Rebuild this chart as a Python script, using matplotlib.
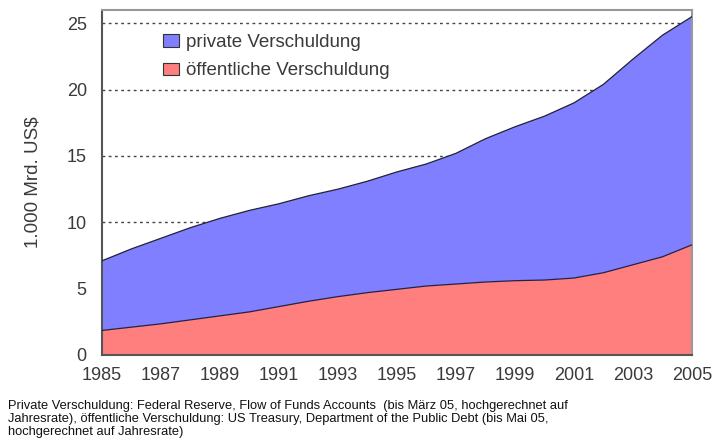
import matplotlib
matplotlib.use('Agg')
import matplotlib.pyplot as plt
import numpy as np

plt.rcParams['font.family'] = ['Liberation Sans', 'DejaVu Sans']

# --- Daten (Billionen US$) ---
years = [1985, 1986, 1987, 1988, 1989, 1990, 1991, 1992, 1993, 1994, 1995,
         1996, 1997, 1998, 1999, 2000, 2001, 2002, 2003, 2004, 2005]
oeffentlich = [1.85, 2.1, 2.35, 2.65, 2.95, 3.25, 3.65, 4.05, 4.4, 4.7, 4.95,
               5.2, 5.35, 5.5, 5.6, 5.65, 5.8, 6.2, 6.8, 7.4, 8.3]
gesamt = [7.1, 8.0, 8.8, 9.6, 10.3, 10.9, 11.4, 12.0, 12.5, 13.1, 13.8,
          14.4, 15.2, 16.3, 17.2, 18.0, 19.0, 20.4, 22.3, 24.1, 25.5]
privat = [g - o for g, o in zip(gesamt, oeffentlich)]

x_ticks = list(range(1985, 2006, 2))
y_ticks = [0, 5, 10, 15, 20, 25]

fig = plt.figure(figsize=(7.15, 4.48), dpi=100)
ax = fig.add_axes([0.1427, 0.2076, 0.825, 0.770])

ax.stackplot(years, oeffentlich, privat,
             colors=['#ff7f7f', '#7f7fff'],
             labels=['öffentliche Verschuldung', 'private Verschuldung'],
             edgecolor='none', zorder=2)
ax.plot(years, oeffentlich, color='#222244', lw=0.9, zorder=3)
ax.plot(years, gesamt, color='#222233', lw=0.9, zorder=3)

for y in y_ticks[1:]:
    ax.axhline(y, color='#444444', lw=1.0, ls=(0, (2, 2.5)), zorder=1)

ax.set_xlim(1985, 2005)
ax.set_ylim(0, 26)
ax.set_xticks(x_ticks)
ax.set_yticks(y_ticks)
ax.tick_params(labelsize=13, colors='#3a3a3a', length=0)
ax.tick_params(axis='y', pad=11)
ax.tick_params(axis='x', pad=9)

for side in ['top', 'right']:
    ax.spines[side].set_color('#999999')
    ax.spines[side].set_linewidth(1.5)
for side in ['left', 'bottom']:
    ax.spines[side].set_color('#555555')
    ax.spines[side].set_linewidth(1.5)

ax.set_ylabel('1.000 Mrd. US$', fontsize=13.5, color='#3a3a3a', labelpad=18)

handles, labels = ax.get_legend_handles_labels()
leg = ax.legend(handles[::-1], labels[::-1], loc='upper left',
                bbox_to_anchor=(0.103, 0.93), borderaxespad=0, borderpad=0,
                frameon=False, fontsize=13.5,
                handlelength=0.85, handleheight=0.65, labelspacing=0.6,
                handletextpad=0.4, labelcolor='#3a3a3a')
for h in leg.legend_handles:
    h.set_edgecolor('#333333')
    h.set_linewidth(0.8)

fig.text(0.011, 0.108,
         'Private Verschuldung: Federal Reserve, Flow of Funds Accounts  (bis März 05, hochgerechnet auf\n'
         'Jahresrate), öffentliche Verschuldung: US Treasury, Department of the Public Debt (bis Mai 05,\n'
         'hochgerechnet auf Jahresrate)',
         fontsize=9.3, va='top', ha='left', linespacing=1.15, color='#111111')

fig.savefig('out.png', dpi=100)
